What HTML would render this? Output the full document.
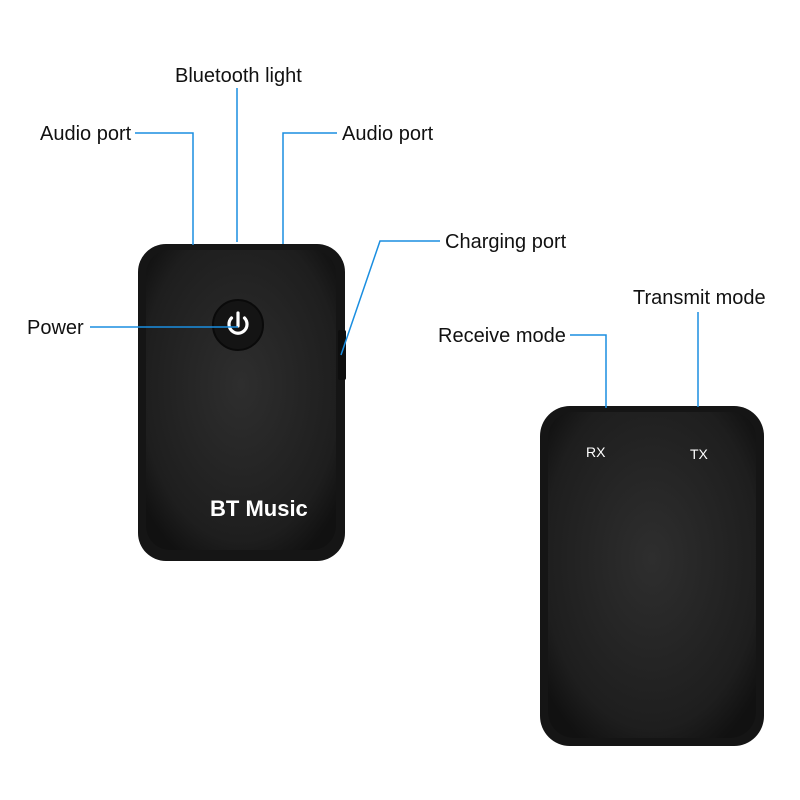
<!DOCTYPE html>
<html><head><style>
body{margin:0;width:800px;height:800px;background:#fff;overflow:hidden;position:relative;font-family:"Liberation Sans",sans-serif}
.t{position:absolute;font-size:20px;line-height:20px;color:#111;white-space:nowrap}
</style></head><body>
<svg width="800" height="800" style="position:absolute;left:0;top:0">
<defs>
<radialGradient id="g1" cx="50%" cy="45%" r="65%"><stop offset="0" stop-color="#2e2e2e"/><stop offset="0.8" stop-color="#1e1e1e"/><stop offset="1" stop-color="#111"/></radialGradient>
</defs>
<rect x="138" y="244" width="207" height="317" rx="28" fill="#151515"/>
<rect x="146" y="250" width="190" height="300" rx="24" fill="url(#g1)"/>
<rect x="338" y="330" width="8" height="50" rx="2" fill="#0e0e0e"/>
<circle cx="238" cy="325" r="25" fill="#141414" stroke="#0a0a0a" stroke-width="2"/>
<path d="M231.5 318 A9 9 0 1 0 244.5 318" fill="none" stroke="#fff" stroke-width="3.2" stroke-linecap="round"/>
<line x1="238" y1="313" x2="238" y2="326" stroke="#fff" stroke-width="3.2" stroke-linecap="round"/>
<text x="210" y="516" font-family="Liberation Sans,sans-serif" font-weight="bold" font-size="22" fill="#fff">BT Music</text>
<rect x="540" y="406" width="224" height="340" rx="30" fill="#151515"/>
<rect x="548" y="412" width="208" height="326" rx="26" fill="url(#g1)"/>
<text x="586" y="457" font-family="Liberation Sans,sans-serif" font-size="14" fill="#fff">RX</text>
<text x="690" y="459" font-family="Liberation Sans,sans-serif" font-size="14" fill="#fff">TX</text>
<g stroke="#1a8ee0" stroke-width="1.5" fill="none">
<polyline points="135,133 193,133 193,245"/>
<line x1="237" y1="88" x2="237" y2="242"/>
<polyline points="337,133 283,133 283,244"/>
<polyline points="440,241 380,241 341,355"/>
<line x1="90" y1="327" x2="238" y2="327"/>
<polyline points="570,335 606,335 606,408"/>
<line x1="698" y1="312" x2="698" y2="407"/>
</g>
</svg>
<div class="t" style="left:40px;top:124px">Audio port</div>
<div class="t" style="left:175px;top:66px">Bluetooth light</div>
<div class="t" style="left:342px;top:124px">Audio port</div>
<div class="t" style="left:445px;top:232px">Charging port</div>
<div class="t" style="left:27px;top:318px">Power</div>
<div class="t" style="left:438px;top:326px">Receive mode</div>
<div class="t" style="left:633px;top:288px">Transmit mode</div>
</body></html>
